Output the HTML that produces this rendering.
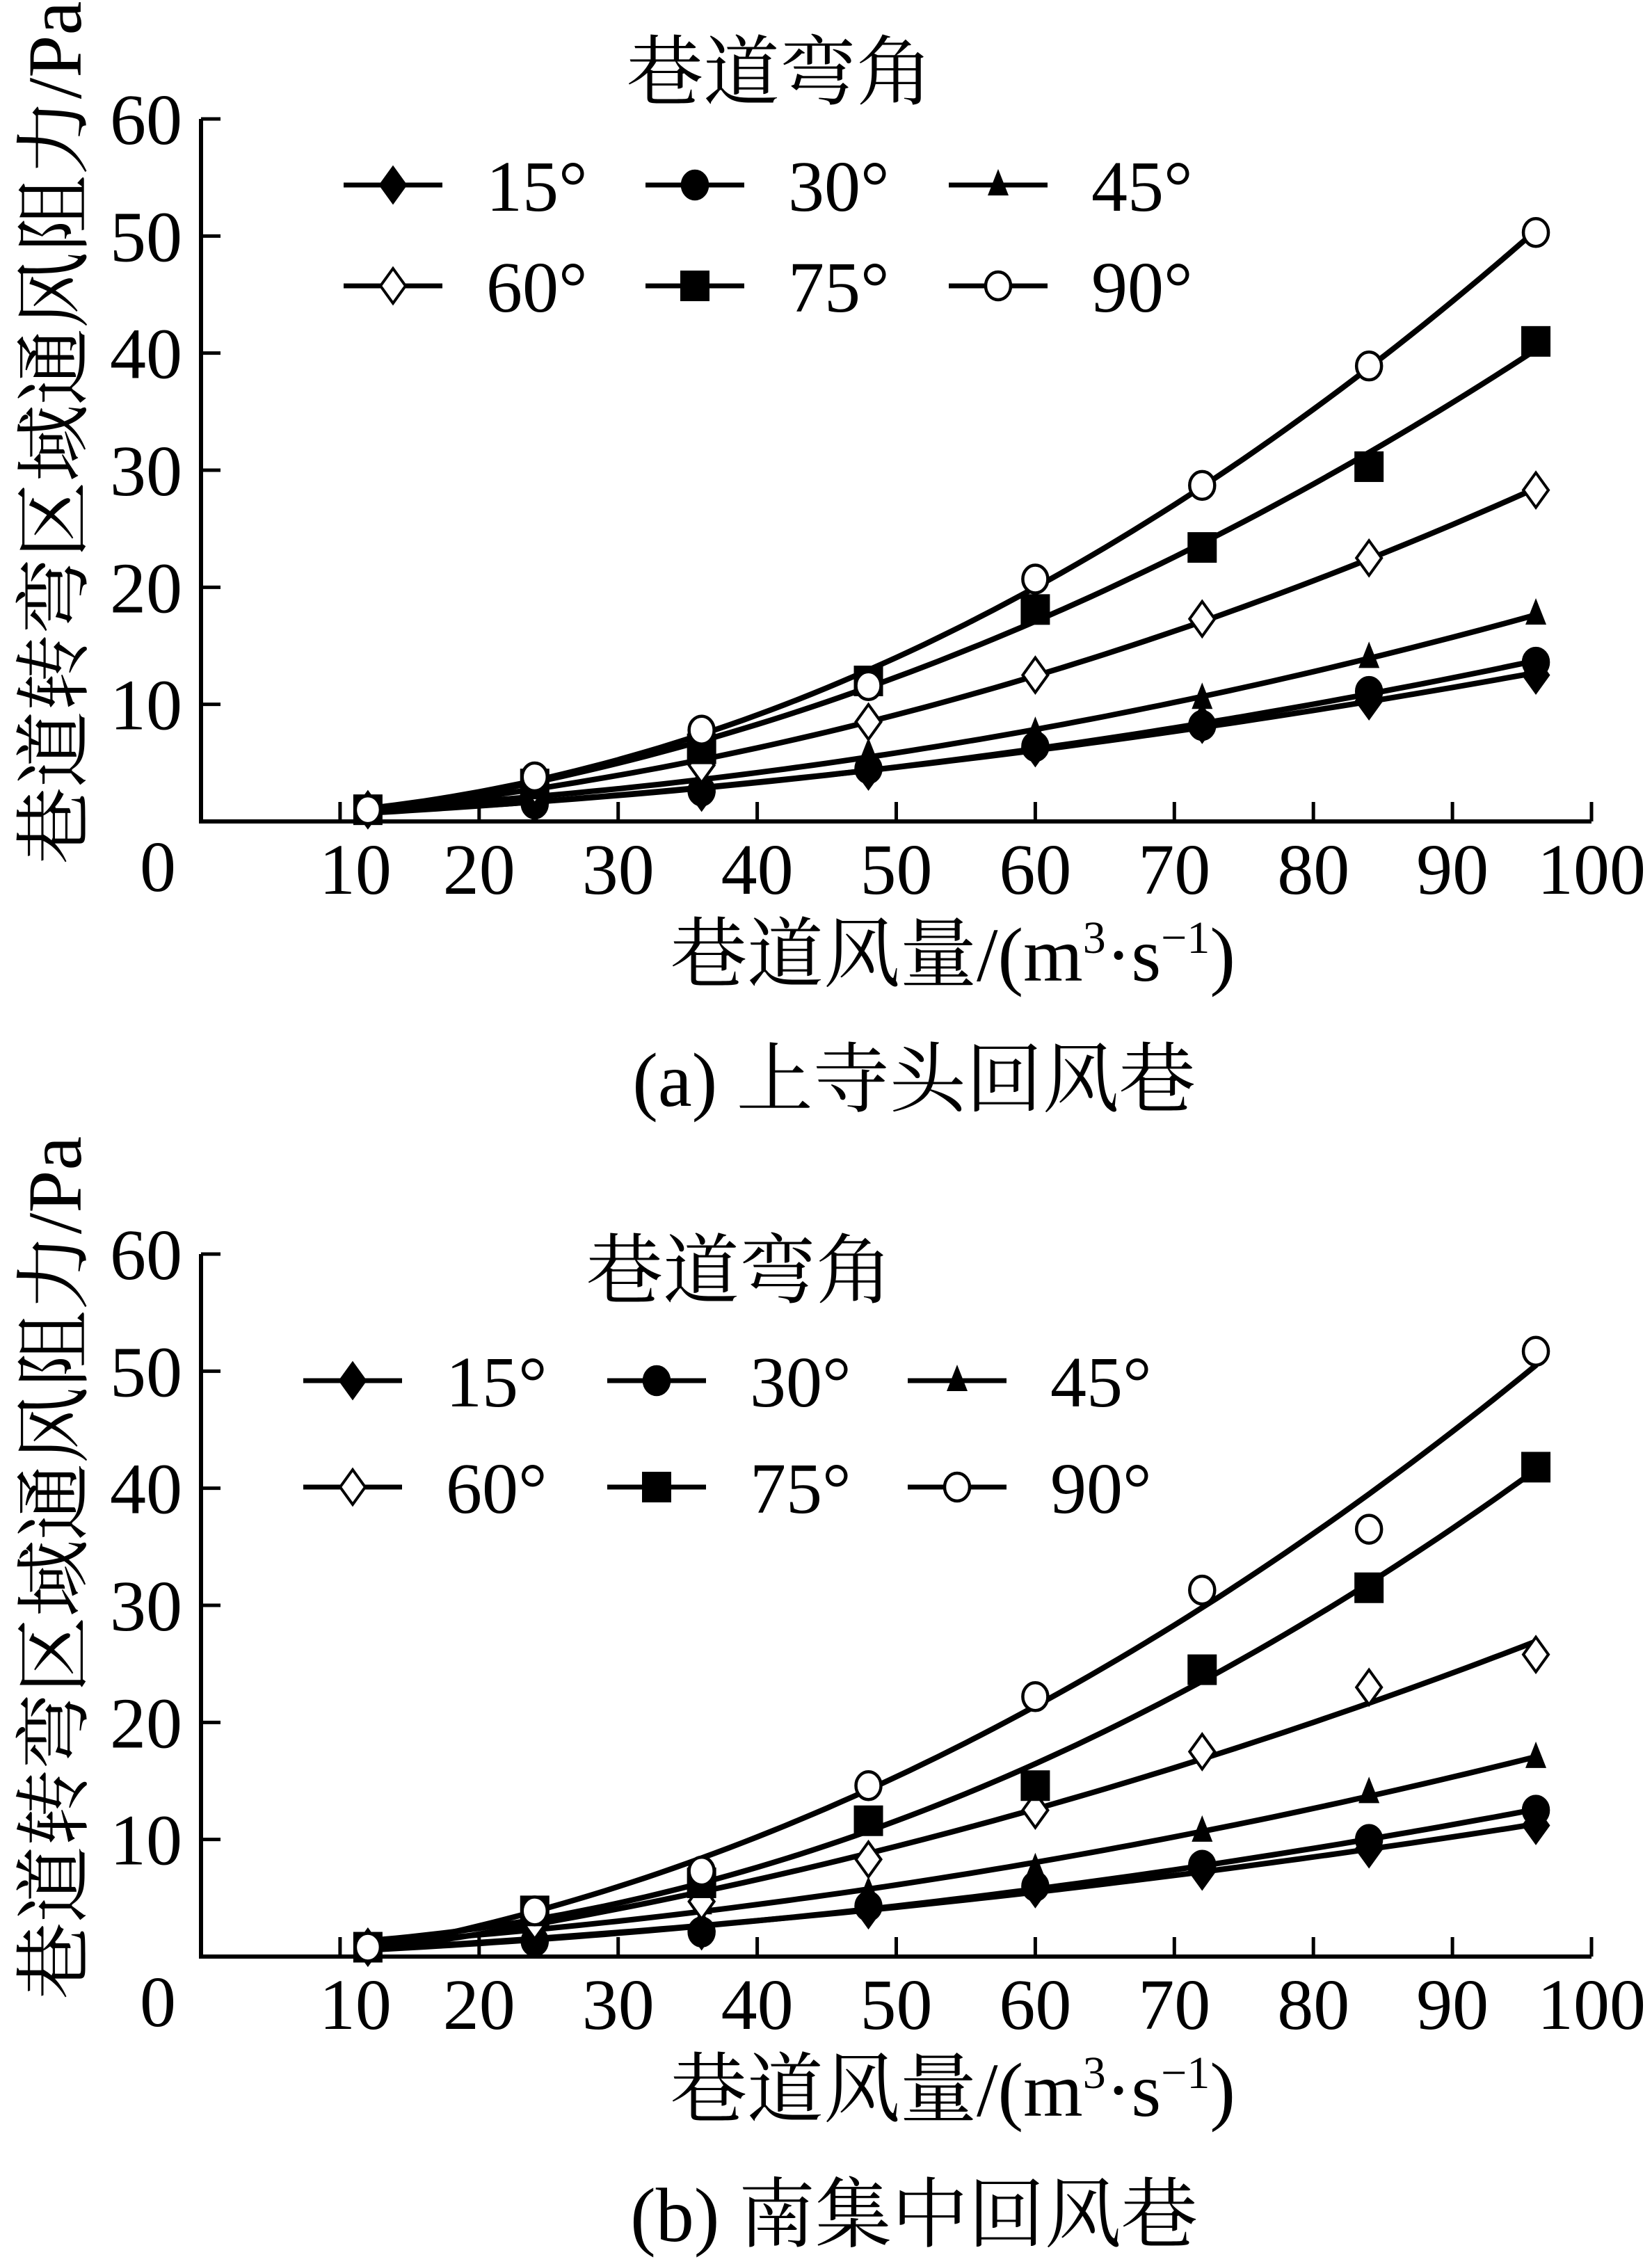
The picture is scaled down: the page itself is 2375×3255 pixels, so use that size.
<!DOCTYPE html>
<html><head><meta charset="utf-8">
<style>
html,body{margin:0;padding:0;background:#fff;}
svg{display:block;}
.num{font-family:"Liberation Serif","Noto Serif CJK SC",serif;font-size:104px;fill:#000;}
.cjk{font-family:"Liberation Serif","Noto Serif CJK SC",serif;font-size:110px;fill:#000;}
</style></head>
<body>
<svg id="fig" width="2375" height="3255" viewBox="0 0 2375 3255" xmlns="http://www.w3.org/2000/svg"></svg>
<script>
// ---- data ----
const xCats = [12, 24, 36, 48, 60, 72, 84, 96];
const seriesNames = ["15°", "30°", "45°", "60°", "75°", "90°"];
const seriesMarkers = ["diamond", "circle", "triangle", "diamondOpen", "square", "circleOpen"];
const xTicks = [10, 20, 30, 40, 50, 60, 70, 80, 90, 100];
const yTicks = [10, 20, 30, 40, 50, 60];
// chart (a)
const a15 = [1.0, 1.5, 2.5, 4.3, 6.3, 8.3, 10.3, 12.5];
const a30 = [1.0, 1.5, 2.6, 4.5, 6.4, 8.2, 11.1, 13.6];
const a45 = [1.0, 2.2, 3.6, 5.8, 7.6, 10.5, 14.0, 17.7];
const a60 = [1.0, 3.0, 4.8, 8.5, 12.5, 17.3, 22.5, 28.3];
const a75 = [1.0, 3.2, 6.2, 12.0, 18.1, 23.4, 30.3, 41.0];
const a90 = [1.0, 3.8, 7.8, 11.6, 20.7, 28.7, 38.9, 50.3];
// chart (b)
const b15 = [0.8, 1.5, 2.2, 4.0, 5.8, 7.3, 9.2, 11.2];
const b30 = [0.8, 1.3, 2.1, 4.3, 6.0, 7.8, 10.0, 12.5];
const b45 = [0.8, 2.5, 4.5, 5.5, 7.5, 10.7, 14.0, 17.0];
const b60 = [0.8, 3.0, 4.7, 8.3, 12.5, 17.5, 23.0, 25.8];
const b75 = [0.8, 3.9, 6.3, 11.6, 14.6, 24.5, 31.5, 41.8];
const b90 = [0.8, 3.9, 7.3, 14.6, 22.2, 31.3, 36.5, 51.7];

const NS = "http://www.w3.org/2000/svg";
const svg = document.getElementById("fig");
function mk(tag, attrs, parent) {
  const e = document.createElementNS(NS, tag);
  for (const k in attrs) e.setAttribute(k, attrs[k]);
  (parent || svg).appendChild(e);
  return e;
}
function fitQuad(xs, ys) {
  let n = xs.length, S = [0,0,0,0,0], T = [0,0,0];
  for (let i = 0; i < n; i++) {
    let p = 1;
    for (let k = 0; k < 5; k++) { S[k] += p; if (k < 3) T[k] += ys[i] * p; p *= xs[i]; }
  }
  const M = [[S[0],S[1],S[2],T[0]],[S[1],S[2],S[3],T[1]],[S[2],S[3],S[4],T[2]]];
  for (let i = 0; i < 3; i++) {
    for (let j = i + 1; j < 3; j++) {
      const f = M[j][i] / M[i][i];
      for (let k = i; k < 4; k++) M[j][k] -= f * M[i][k];
    }
  }
  const c = [0,0,0];
  for (let i = 2; i >= 0; i--) {
    let s = M[i][3];
    for (let k = i + 1; k < 3; k++) s -= M[i][k] * c[k];
    c[i] = s / M[i][i];
  }
  return x => c[0] + c[1] * x + c[2] * x * x;
}
function marker(type, cx, cy, g) {
  let e;
  if (type === "diamond" || type === "diamondOpen") {
    e = mk("polygon", {points: `${cx},${cy-25} ${cx+18},${cy} ${cx},${cy+25} ${cx-18},${cy}`,
      fill: type === "diamond" ? "#000" : "#fff", stroke: "#000", "stroke-width": 4}, g);
  } else if (type === "circle" || type === "circleOpen") {
    e = mk("ellipse", {cx: cx, cy: cy, rx: 18, ry: 20,
      fill: type === "circle" ? "#000" : "#fff", stroke: "#000", "stroke-width": 4.5}, g);
  } else if (type === "triangle") {
    e = mk("polygon", {points: `${cx},${cy-23} ${cx+15},${cy+15} ${cx-15},${cy+15}`, fill: "#000"}, g);
  } else {
    e = mk("rect", {x: cx-21, y: cy-22, width: 42, height: 44, fill: "#000"}, g);
  }
  return e;
}

function drawChart(oy, id, series, leg, caption) {
  const x0 = 289, x1 = 2288, yb = 1181 + oy, yt = 171 + oy;
  const X = v => x0 + (v / 100) * (x1 - x0);
  const Y = v => yb - (v / 60) * (yb - yt);
  const g = mk("g", {});
  
  
  const ax = mk("path", {d: `M${x0},${yt} L${x0},${yb} L${x1},${yb}`, fill: "none", stroke: "#000", "stroke-width": 6, "stroke-linejoin": "miter"}, g);
  
  
  yTicks.forEach(t => {
    const tk = mk("line", {x1: x0, x2: x0 + 28, y1: Y(t), y2: Y(t), stroke: "#000", "stroke-width": 5}, g);
    
    
    const lb = mk("text", {x: 262, y: Y(t) + 36, "text-anchor": "end", class: "num"}, g);
    lb.textContent = t;
    
    
  });
  const z = mk("text", {x: 227, y: yb + 100, "text-anchor": "middle", class: "num"}, g);
  z.textContent = "0";
  
  
  xTicks.forEach(t => {
    const tk = mk("line", {x1: X(t), x2: X(t), y1: yb, y2: yb - 28, stroke: "#000", "stroke-width": 5}, g);
    
    
    const lb = mk("text", {x: X(t) + (t === 10 ? 22 : 0), y: yb + 104, "text-anchor": "middle", class: "num"}, g);
    lb.textContent = t;
    
    
  });
  series.forEach((vals, si) => {
    const sg = mk("g", {}, g);
    
    
    const f = fitQuad(xCats, vals);
    let d = "";
    for (let x = xCats[0]; x <= xCats[xCats.length - 1] + 0.01; x += 1) {
      d += (d ? " L" : "M") + X(x).toFixed(1) + "," + Y(Math.max(f(x), 0.3)).toFixed(1);
    }
    const ln = mk("path", {d: d, fill: "none", stroke: "#000", "stroke-width": 8, "stroke-linecap": "round"}, sg);
    
    
    vals.forEach((v, i) => {
      const m = marker(seriesMarkers[si], X(xCats[i]), Y(v), sg);
      
      
    });
  });
  const lg = mk("g", {}, g);
  
  
  const lt = mk("text", {x: leg.tx, y: leg.ty, "text-anchor": "middle", class: "cjk"}, lg);
  lt.textContent = "巷道弯角";
  
  
  seriesNames.forEach((nm, si) => {
    const col = si % 3, row = Math.floor(si / 3);
    const lx = leg.cols[col], ly = leg.rows[row];
    const eg = mk("g", {}, lg);
    
    
    mk("line", {x1: lx, x2: lx + 142, y1: ly, y2: ly, stroke: "#000", "stroke-width": 7}, eg);
    marker(seriesMarkers[si], lx + 71, ly, eg);
    const tx = mk("text", {x: lx + 205, y: ly + 37, class: "num"}, eg);
    tx.textContent = nm;
  });
  const yt2 = mk("text", {x: 0, y: 0, "text-anchor": "middle", class: "cjk", transform: `translate(116,${oy + 622}) rotate(-90)`}, g);
  yt2.setAttribute("font-size", "108");
  yt2.textContent = "巷道转弯区域通风阻力/Pa";
  
  
  const xt = mk("text", {x: 1370, y: oy + 1410, "text-anchor": "middle", class: "cjk"}, g);
  xt.innerHTML = '巷道风量/(m<tspan dy="-40" font-size="66">3</tspan><tspan dy="40">·s</tspan><tspan dy="-40" font-size="66">−1</tspan><tspan dy="40">)</tspan>';
  
  
  const cp = mk("text", {x: 1314, y: oy + 1590, "text-anchor": "middle", class: "cjk"}, g);
  cp.textContent = caption;
  
  
}

drawChart(0, "a", [a15, a30, a45, a60, a75, a90],
  {tx: 1121, ty: 142, cols: [494, 928, 1364], rows: [266, 411]}, "(a) 上寺头回风巷");
drawChart(1632, "b", [b15, b30, b45, b60, b75, b90],
  {tx: 1063, ty: 1865, cols: [436, 873, 1305], rows: [1985, 2138]}, "(b) 南集中回风巷");
</script>
</body></html>
